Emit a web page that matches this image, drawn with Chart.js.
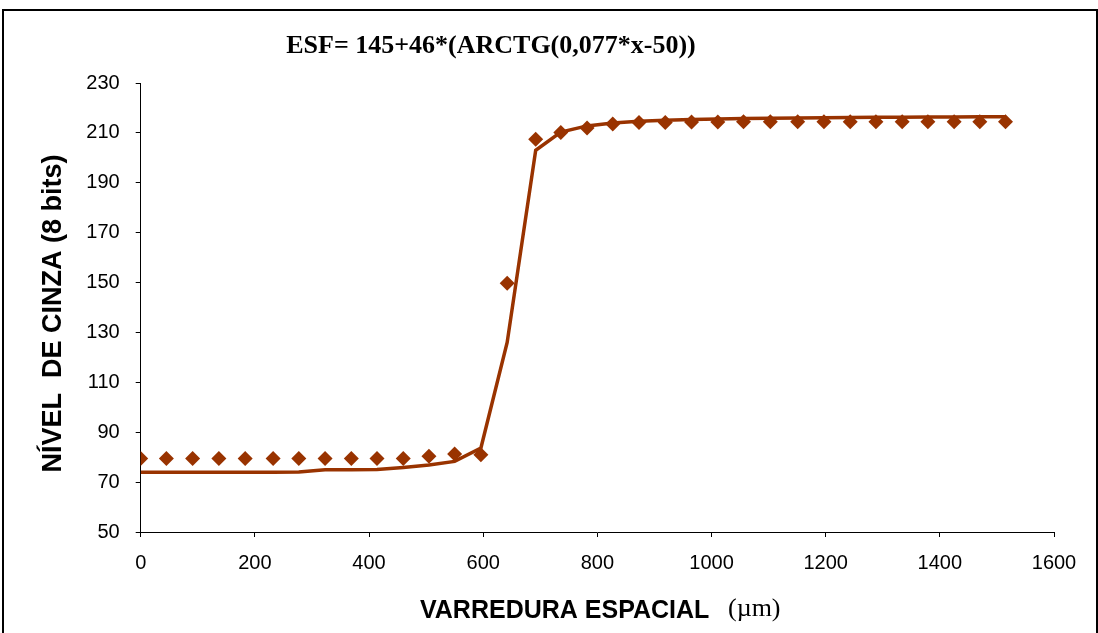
<!DOCTYPE html>
<html>
<head>
<meta charset="utf-8">
<script src="https://cdn.jsdelivr.net/npm/chart.js@4.4.0/dist/chart.umd.min.js"></script>
<style>
  body { margin: 0; background: #fff; }
  #wrap { width: 1098px; height: 633px; }
</style>
</head>
<body>
<div id="wrap"><canvas id="myChart" width="1098" height="633"></canvas></div>
<script>
// scan positions (um)
var positions = [0, 45, 91, 137, 183, 232, 277, 323, 369, 414, 460, 505, 550, 596,
    642, 692, 736, 782, 827, 873, 919, 965, 1011, 1056, 1103, 1151, 1197, 1243,
    1288, 1334, 1379, 1425, 1470, 1515];

// measured grey level (diamonds)
var measured = [79.5, 79.5, 79.5, 79.5, 79.5, 79.5, 79.5, 79.5, 79.5, 79.5, 79.5, 80.4, 81.3, 81.0,
    149.7, 207.5, 210.2, 212.0, 213.6, 214.2, 214.2, 214.4, 214.4, 214.5, 214.5, 214.5, 214.5, 214.5,
    214.5, 214.5, 214.5, 214.5, 214.5, 214.5];

// fitted ESF curve (line)
var fitted = [74.0, 74.0, 74.0, 74.0, 74.0, 74.0, 74.1, 75.0, 75.0, 75.1, 75.9, 76.9, 78.3, 83.7,
    126.0, 203.0, 210.3, 212.8, 214.0, 214.7, 215.1, 215.4, 215.6, 215.8, 215.9, 216.0, 216.1, 216.2,
    216.3, 216.3, 216.4, 216.4, 216.5, 216.5];

var xTicks = [0, 200, 400, 600, 800, 1000, 1200, 1400, 1600];
var yTicks = [50, 70, 90, 110, 130, 150, 170, 190, 210, 230];

var chartTitle = 'ESF= 145+46*(ARCTG(0,077*x-50))';
var yTitle = 'NÍVEL  DE CINZA (8 bits)';
var xTitle = 'VARREDURA ESPACIAL';
var xUnit = '(µm)';

var brown = '#993300';

function toPoints(xs, ys) {
    return xs.map(function (x, i) { return { x: x, y: ys[i] }; });
}

// texts and frame drawn over the chart
var decor = {
    id: 'decor',
    afterDraw: function (chart) {
        var c = chart.ctx;
        var area = chart.chartArea;
        c.save();
        c.strokeStyle = '#000';
        c.lineWidth = 2;
        c.strokeRect(3, 10, 1094, 640);

        c.fillStyle = '#000';
        c.textBaseline = 'alphabetic';
        c.textAlign = 'center';
        c.font = 'bold 26px "Liberation Serif", serif';
        c.fillText(chartTitle, 491, 53);

        c.save();
        c.translate(61, (area.top + area.bottom) / 2 + 6);
        c.rotate(-Math.PI / 2);
        c.font = 'bold 27px "Liberation Sans", Arial, sans-serif';
        c.fillText(yTitle, 0, 0);
        c.restore();

        c.textAlign = 'left';
        c.font = 'bold 25px "Liberation Sans", Arial, sans-serif';
        c.fillText(xTitle, 420, 618);
        c.font = '26px "Liberation Serif", serif';
        c.fillText(xUnit, 728, 616);
        c.restore();
    }
};

const ctx = document.getElementById('myChart').getContext('2d');

var config = {
    type: 'scatter',
    data: {
        datasets: [{
            label: 'ajuste',
            data: toPoints(positions, fitted),
            showLine: true,
            borderColor: brown,
            borderWidth: 3.5,
            pointRadius: 0,
            tension: 0,
            order: 2
        }, {
            label: 'medido',
            data: toPoints(positions, measured),
            showLine: false,
            pointStyle: 'rectRot',
            pointRadius: 7.5,
            backgroundColor: brown,
            borderColor: brown,
            borderWidth: 0,
            order: 1
        }]
    },
    plugins: [decor],
    options: {
        responsive: false,
        animation: false,
        layout: { padding: { left: 0, top: 83, right: 44, bottom: 0 } },
        plugins: {
            legend: { display: false },
            tooltip: { enabled: false }
        },
        scales: {
            x: {
                type: 'linear',
                min: 0,
                max: 1600,
                afterBuildTicks: function (scale) {
                    scale.ticks = xTicks.map(function (v) { return { value: v }; });
                },
                afterFit: function (scale) { scale.height = 101; },
                ticks: {
                    color: '#000',
                    padding: 14,
                    maxRotation: 0,
                    callback: function (v) { return String(v); },
                    font: { family: '"Liberation Sans", Arial, sans-serif', size: 20 }
                },
                grid: { drawOnChartArea: false, drawTicks: true, tickLength: 5, color: '#000' },
                border: { color: '#000', width: 1 }
            },
            y: {
                type: 'linear',
                min: 50,
                max: 230,
                afterBuildTicks: function (scale) {
                    scale.ticks = yTicks.map(function (v) { return { value: v }; });
                },
                afterFit: function (scale) { scale.width = 140.7; },
                ticks: {
                    color: '#000',
                    padding: 16,
                    callback: function (v) { return String(v); },
                    font: { family: '"Liberation Sans", Arial, sans-serif', size: 20 }
                },
                grid: { drawOnChartArea: false, drawTicks: true, tickLength: 5, color: '#000' },
                border: { color: '#000', width: 1 }
            }
        }
    }
};

let myChart = new Chart(ctx, config);
</script>
</body>
</html>
